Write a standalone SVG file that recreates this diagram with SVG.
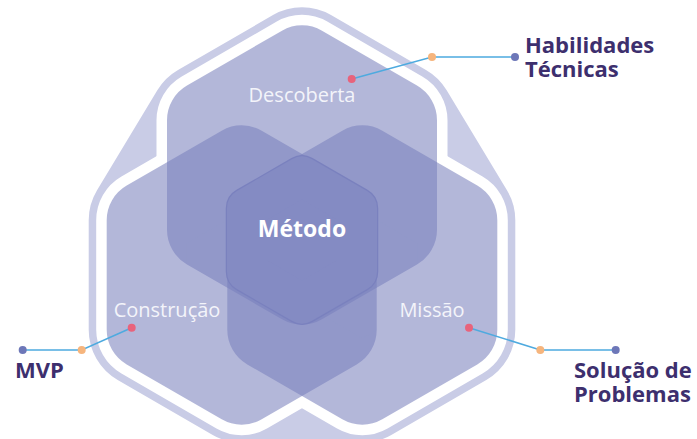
<svg xmlns="http://www.w3.org/2000/svg" width="697" height="439" viewBox="0 0 697 439">
<style>
.hull{fill:#c9cce6;stroke:#c9cce6;stroke-width:116;stroke-linejoin:round}
.wb{fill:#ffffff;stroke:#ffffff;stroke-width:101;stroke-linejoin:round}
.hex{fill:#7980bd;stroke:#7980bd;stroke-width:80;stroke-linejoin:round;opacity:0.56}
.mborder{fill:#7a81be;stroke:#7a81be;stroke-width:42.5;stroke-linejoin:round}
.mfill{fill:#848bc3;stroke:#848bc3;stroke-width:40;stroke-linejoin:round}
.region{font-family:"Open Sans","Noto Sans",sans-serif;font-size:20px;fill:#f3f4fa;text-anchor:middle}
.title{font-family:"Open Sans","Noto Sans",sans-serif;font-weight:700;font-size:23px;fill:#ffffff;text-anchor:middle}
.label{font-family:"Open Sans","Noto Sans",sans-serif;font-weight:700;font-size:22px;fill:#3d2f6e}
.conn{stroke:#4eaadf;stroke-width:1.5;fill:none}
.dp{fill:#e8637c}
.do{fill:#f6b57d}
.dv{fill:#6d77b8}
</style>
<defs>
<polygon id="hx" points="0,-109.69 95,-54.85 95,54.85 0,109.69 -95,54.85 -95,-54.85"/>
<polygon id="mh" points="0,-63.5 55,-31.75 55,31.75 0,63.5 -55,31.75 -55,-31.75"/>
</defs>
<g id="background">
<polygon class="hull" points="207,120.15 302,65.31 397,120.15 457.3,220.15 457.3,329.85 362.3,384.69 241.7,384.69 146.7,329.85 146.7,220.15"/>
<use href="#hx" class="wb" transform="translate(302,175)"/>
<use href="#hx" class="wb" transform="translate(241.7,275)"/>
<use href="#hx" class="wb" transform="translate(362.3,275)"/>
</g>
<g id="descoberta">
<use href="#hx" class="hex" transform="translate(302,175)"/>
</g>
<g id="construcao">
<use href="#hx" class="hex" transform="translate(241.7,275)"/>
</g>
<g id="missao">
<use href="#hx" class="hex" transform="translate(362.3,275)"/>
</g>
<g id="metodo">
<use href="#mh" class="mborder" transform="translate(302,240)"/>
<use href="#mh" class="mfill" transform="translate(302,240)"/>
<text class="title" x="302" y="237">Método</text>
</g>
<g id="region-labels">
<text class="region" x="302" y="102">Descoberta</text>
<text class="region" x="167" y="317">Construção</text>
<text class="region" x="432" y="317">Missão</text>
</g>
<g id="connectors">
<polyline class="conn" points="351.7,79 432,57 515,57"/>
<polyline class="conn" points="131.7,327.7 81.7,350 22.7,350"/>
<polyline class="conn" points="469,327.7 540.3,350 615.7,350"/>
<circle class="dp" cx="351.7" cy="79" r="4"/>
<circle class="do" cx="432" cy="57" r="4"/>
<circle class="dv" cx="515" cy="57" r="4"/>
<circle class="dp" cx="131.7" cy="327.7" r="4"/>
<circle class="do" cx="81.7" cy="350" r="4"/>
<circle class="dv" cx="22.7" cy="350" r="4"/>
<circle class="dp" cx="469" cy="327.7" r="4"/>
<circle class="do" cx="540.3" cy="350" r="4"/>
<circle class="dv" cx="615.7" cy="350" r="4"/>
</g>
<g id="habilidades">
<text class="label" x="525" y="53">Habilidades<tspan x="525" dy="24">Técnicas</tspan></text>
</g>
<g id="mvp">
<text class="label" x="15" y="378">MVP</text>
</g>
<g id="solucao">
<text class="label" x="574" y="378">Solução de<tspan x="574" dy="24">Problemas</tspan></text>
</g>
</svg>
